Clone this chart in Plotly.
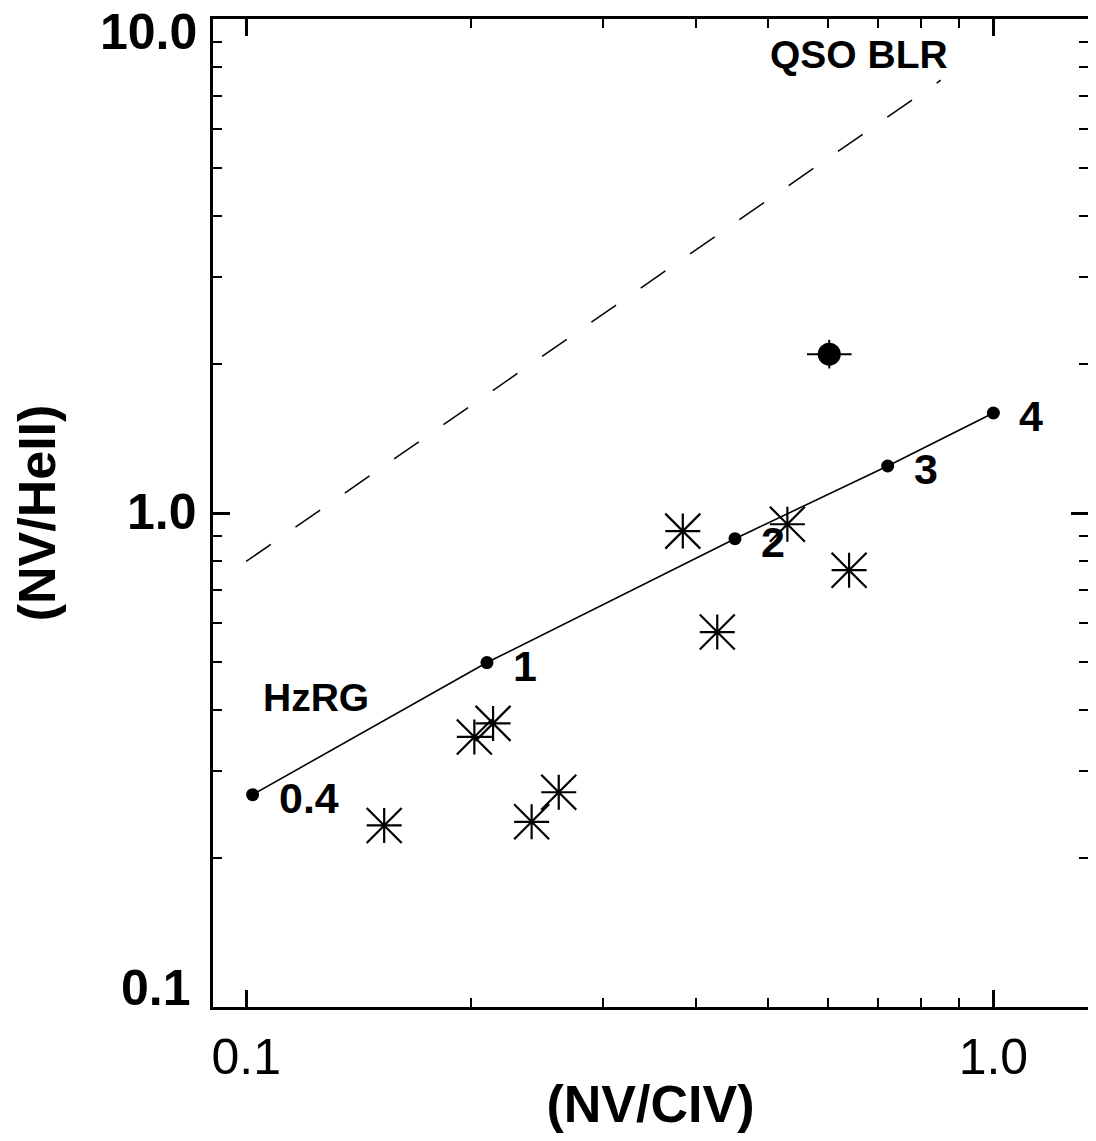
import math
import plotly.graph_objects as go

# ---------------- data ----------------
# Photoionisation model sequence (solid line with dots)
model_x = [0.102, 0.210, 0.451, 0.722, 1.000]
model_y = [0.269, 0.498, 0.887, 1.245, 1.594]
model_labels = ["0.4", "1", "2", "3", "4"]

# QSO BLR relation (dashed line)
qso_x = [0.100, 0.850]
qso_y = [0.798, 7.52]

# HzRG measurements (asterisks)
star_x = [0.153, 0.202, 0.214, 0.241, 0.262, 0.384, 0.427, 0.530, 0.641]
star_y = [0.233, 0.352, 0.375, 0.237, 0.272, 0.919, 0.574, 0.949, 0.766]

# Single object with error bars (big filled dot)
obj_x = [0.603]
obj_y = [2.097]
obj_xerr_plus = [0.043]
obj_xerr_minus = [0.040]
obj_yerr_plus = [0.145]
obj_yerr_minus = [0.135]

# Region labels
region_text = ["QSO BLR", "HzRG"]
region_x = [0.661, 0.124]
region_y = [8.49, 0.423]

# Axis ticks
x_tickvals = [0.1, 1.0]
x_ticktext = ["0.1", "1.0"]
y_tickvals = [0.1, 1.0, 10.0]
y_ticktext = ["0.1", "1.0", "10.0"]
minor_vals = [0.2, 0.3, 0.4, 0.5, 0.6, 0.7, 0.8, 0.9, 2, 3, 4, 5, 6, 7, 8, 9]

FONT = "Liberation Sans, Arial, sans-serif"

# y tick labels are kept inside the axis ends (IDL style): pixel nudges
ytick_label_yshift = [19, 1, -13]
ytick_label_xshift = [-20, -14, -14]

fig = go.Figure()

# dashed QSO BLR line
fig.add_trace(go.Scatter(
    x=qso_x, y=qso_y, mode="lines",
    line=dict(color="black", width=1.5, dash="30px,30px"),
    showlegend=False, hoverinfo="skip"))

# model sequence
fig.add_trace(go.Scatter(
    x=model_x, y=model_y, mode="lines+markers",
    line=dict(color="black", width=1.6),
    marker=dict(symbol="circle", size=13, color="black"),
    showlegend=False))

# asterisks: plus arms + diagonal arms
fig.add_trace(go.Scatter(
    x=star_x, y=star_y, mode="markers",
    marker=dict(symbol="cross-thin-open", size=25, color="black",
                line=dict(color="black", width=2.2)),
    showlegend=False))
fig.add_trace(go.Scatter(
    x=star_x, y=star_y, mode="markers",
    marker=dict(symbol="x-thin-open", size=35, color="black",
                line=dict(color="black", width=2.2)),
    showlegend=False))

# object with error bars
fig.add_trace(go.Scatter(
    x=obj_x, y=obj_y, mode="markers",
    marker=dict(symbol="circle", size=23, color="black"),
    error_x=dict(type="data", array=obj_xerr_plus, arrayminus=obj_xerr_minus,
                 symmetric=False, color="black", thickness=2, width=0),
    error_y=dict(type="data", array=obj_yerr_plus, arrayminus=obj_yerr_minus,
                 symmetric=False, color="black", thickness=2, width=0),
    showlegend=False))

annotations = []
for xv, yv, t in zip(model_x, model_y, model_labels):
    annotations.append(dict(
        x=math.log10(xv), y=math.log10(yv), xref="x", yref="y", text=t,
        showarrow=False, xanchor="left", yanchor="middle",
        xshift=24, yshift=-3,
        font=dict(family=FONT, size=43, color="black", weight="bold")))
for xv, yv, t in zip(region_x, region_y, region_text):
    annotations.append(dict(
        x=math.log10(xv), y=math.log10(yv), xref="x", yref="y", text=t,
        showarrow=False, xanchor="center", yanchor="middle",
        font=dict(family=FONT, size=39, color="black", weight="bold")))
# y tick labels
for yv, t, dy, dx in zip(y_tickvals, y_ticktext, ytick_label_yshift, ytick_label_xshift):
    annotations.append(dict(
        x=0, y=math.log10(yv), xref="paper", yref="y", text=t,
        showarrow=False, xanchor="right", yanchor="middle",
        xshift=dx, yshift=dy,
        font=dict(family=FONT, size=50, color="black", weight="bold")))

axis_common = dict(
    type="log", showgrid=False, zeroline=False,
    showline=True, linecolor="black", linewidth=2.8, mirror="ticks",
    ticks="inside", ticklen=17, tickwidth=2.5, tickcolor="black",
    ticklabeloverflow="allow",
    minor=dict(ticks="inside", ticklen=9, tickwidth=2.2, tickcolor="black",
               tickvals=minor_vals, showgrid=False),
)

fig.update_xaxes(
    **axis_common,
    range=[-1.0444, 0.1266],
    tickvals=x_tickvals, ticktext=x_ticktext,
    ticklabelstandoff=4,
    tickfont=dict(family=FONT, size=50, color="black"),
    title=dict(text="(NV/CIV)", standoff=13,
               font=dict(family=FONT, size=52, color="black", weight="bold")),
)
fig.update_yaxes(
    **axis_common,
    range=[-1.0002, 1.0002],
    tickvals=y_tickvals, showticklabels=False,
    title=dict(text="(NV/HeII)", standoff=140,
               font=dict(family=FONT, size=52, color="black", weight="bold")),
)

fig.update_layout(
    width=1080, height=1125,
    margin=dict(l=205, r=0, t=11, b=126, autoexpand=False),
    paper_bgcolor="white", plot_bgcolor="white",
    annotations=annotations,
    showlegend=False,
)

fig.write_html("out.html")
